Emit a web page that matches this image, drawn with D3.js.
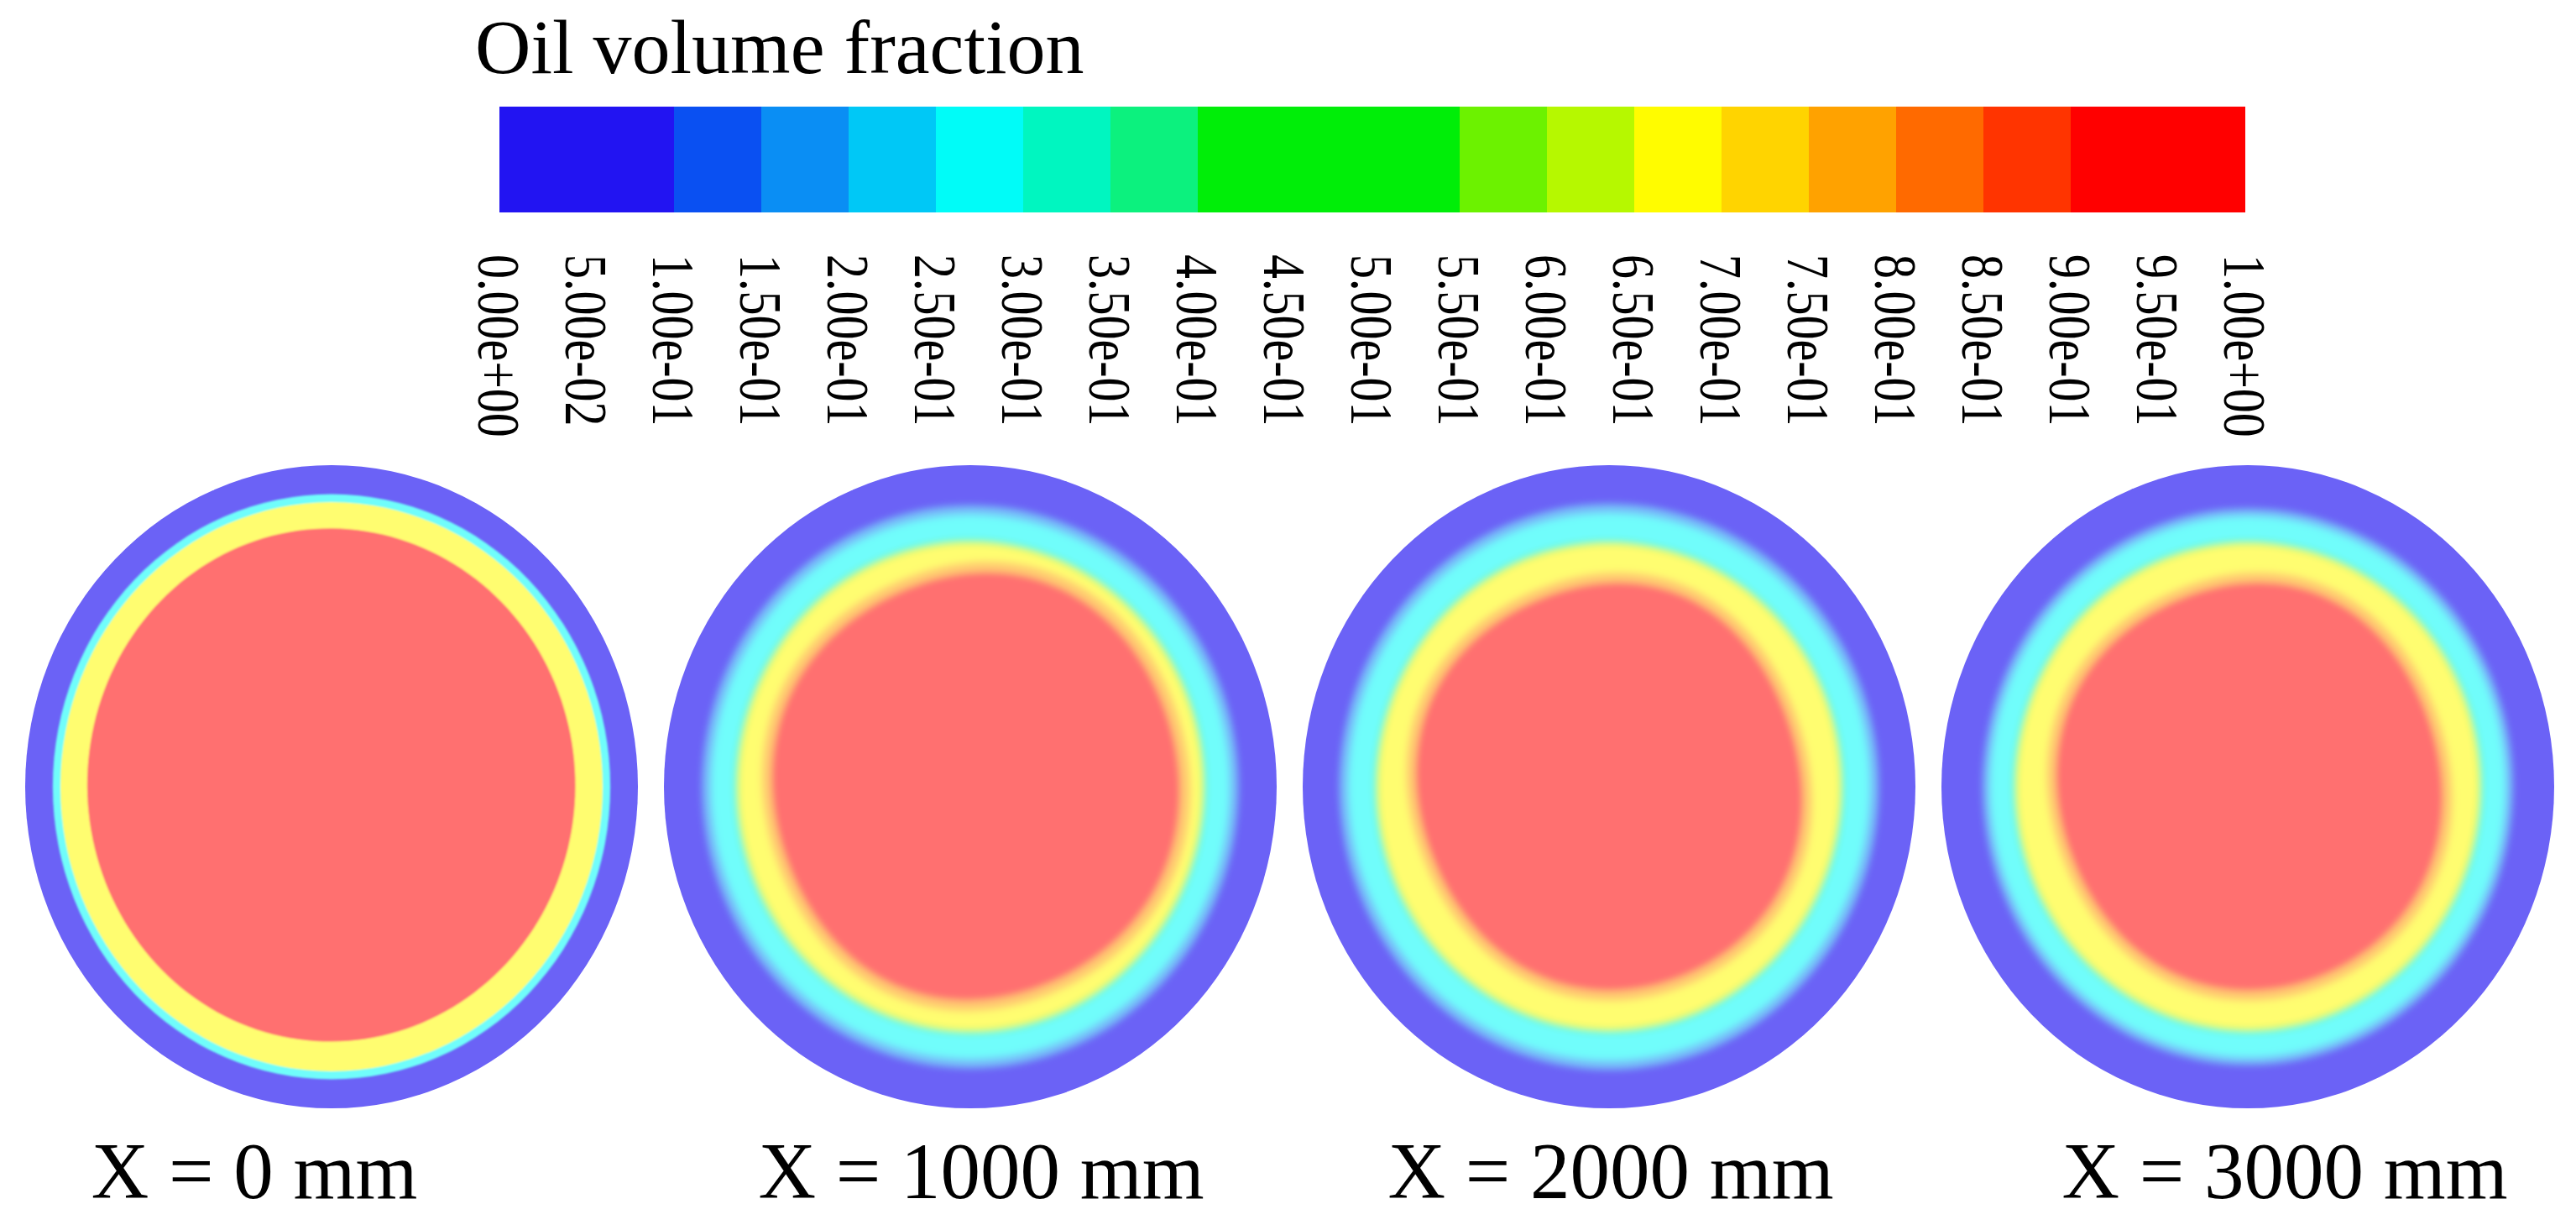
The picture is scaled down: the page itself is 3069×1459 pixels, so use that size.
<!DOCTYPE html>
<html>
<head>
<meta charset="utf-8">
<script src="https://cdn.jsdelivr.net/npm/d3@7"></script>
<style>
  body { margin: 0; background: #fff; }
  text { font-family: "Liberation Serif", "Times New Roman", serif; fill: #000; }
</style>
</head>
<body>
<div class="canvas"></div>
<script>
// colour bar levels (oil volume fraction) and their printed labels
const tickValues = [0, 0.05, 0.1, 0.15, 0.2, 0.25, 0.3, 0.35, 0.4, 0.45, 0.5,
  0.55, 0.6, 0.65, 0.7, 0.75, 0.8, 0.85, 0.9, 0.95, 1];
const tickLabels = ['0.00e+00', '5.00e-02', '1.00e-01', '1.50e-01', '2.00e-01',
  '2.50e-01', '3.00e-01', '3.50e-01', '4.00e-01', '4.50e-01', '5.00e-01',
  '5.50e-01', '6.00e-01', '6.50e-01', '7.00e-01', '7.50e-01', '8.00e-01',
  '8.50e-01', '9.00e-01', '9.50e-01', '1.00e+00'];
// one colour per interval between two levels
const bandColors = ['#2214f2', '#2214f2', '#0a50f2', '#0a8ef4', '#00c8f6',
  '#00fcf8', '#00f6c0', '#0cf17e', '#00ee08', '#00ee08', '#00ee08',
  '#6cf200', '#b6f800', '#fffc00', '#ffd400', '#ffa200', '#ff6a00',
  '#ff3400', '#ff0000', '#ff0000'];

// cross sections along the pipe
const sectionLabels = ['X = 0 mm', 'X = 1000 mm', 'X = 2000 mm', 'X = 3000 mm'];
// rings from the wall inwards: outer radius (share of pipe radius) and oil fraction
const ringRadius = [
  [1.00, 0.91, 0.885],
  [1.00, 0.875, 0.845, 0.768, 0.758],
  [1.00, 0.88, 0.85, 0.765, 0.755],
  [1.00, 0.865, 0.84, 0.765, 0.755]
];
const ringValue = [
  [0.02, 0.27, 0.67],
  [0.02, 0.17, 0.27, 0.45, 0.67],
  [0.02, 0.17, 0.27, 0.45, 0.67],
  [0.02, 0.17, 0.27, 0.45, 0.67]
];
// oil core outline: radius at 8 angles, clockwise from the top
const coreRadius = [
  [0.807, 0.80, 0.797, 0.795, 0.79, 0.795, 0.795, 0.80],
  [0.63, 0.70, 0.67, 0.70, 0.65, 0.68, 0.625, 0.67],
  [0.61, 0.66, 0.60, 0.66, 0.63, 0.64, 0.60, 0.66],
  [0.61, 0.66, 0.61, 0.66, 0.63, 0.64, 0.60, 0.65]
];
const haloValue = [0.67, 0.77, 0.77, 0.77];
const coreValue = [0.97, 0.97, 0.97, 0.97];

const width = 3069;
const height = 1459;

const svg = d3.select('.canvas')
  .append('svg')
  .attr('width', width)
  .attr('height', height);

svg.append('rect')
  .attr('width', width)
  .attr('height', height)
  .attr('fill', '#fff');

// scales
const x = d3.scaleLinear()
  .domain([0, 1])
  .range([595, 2675]);
const color = d3.scaleQuantize()
  .domain([0, 1])
  .range(bandColors);
// contour colours look washed out on the sections (the wall blue a bit less)
const wash = v => d3.interpolateRgb(color(v), '#fff')(v < 0.1 ? 0.33 : 0.44);

// title
svg.append('text')
  .attr('x', 566)
  .attr('y', 87)
  .attr('font-size', 92)
  .text('Oil volume fraction');

// colour bar
const barTop = 127;
const barHeight = 126;

svg.append('g')
  .selectAll('rect')
  .data(bandColors)
  .enter()
  .append('rect')
    .attr('x', (d, i) => x(tickValues[i]))
    .attr('y', barTop)
    .attr('width', (d, i) => x(tickValues[i + 1]) - x(tickValues[i]) + (i < bandColors.length - 1 ? 1 : 0))
    .attr('height', barHeight)
    .attr('fill', d => d);

const axis = d3.axisBottom(x)
  .tickValues(tickValues)
  .tickFormat((d, i) => tickLabels[i])
  .tickSize(0);

const axisGroup = svg.append('g')
  .attr('transform', `translate(0, ${barTop + barHeight})`)
  .call(axis)
  .attr('font-size', 72)
  .attr('font-family', null);

axisGroup.select('.domain').remove();
axisGroup.selectAll('text')
  .attr('x', 0)
  .attr('y', 0)
  .attr('dy', '0.35em')
  .attr('fill', '#000')
  .attr('text-anchor', 'start')
  .attr('transform', 'translate(0, 50) rotate(90) scale(0.805, 1)');

// cross sections
const cx = d3.scalePoint()
  .domain(sectionLabels)
  .range([395, 2678]);
const cy = 937;
const rx = 365;
const ry = 383;
const labelShift = [-92, 13, 2, 44];

const defs = svg.append('defs');
defs.append('filter')
  .attr('id', 'soft')
  .attr('x', '-10%').attr('y', '-10%')
  .attr('width', '120%').attr('height', '120%')
  .append('feGaussianBlur')
  .attr('stdDeviation', 4);
defs.append('filter')
  .attr('id', 'crisp')
  .append('feGaussianBlur')
  .attr('stdDeviation', 1.2);
defs.append('clipPath')
  .attr('id', 'pipe')
  .append('ellipse')
  .attr('rx', rx)
  .attr('ry', ry);

// closed outline: radius varies smoothly with angle through the 8 samples
const outline = radii => {
  const r = d3.interpolateBasisClosed(radii);
  const angles = d3.range(0, 2 * Math.PI, Math.PI / 90);
  return d3.line()
    .x(a => r(a / (2 * Math.PI) + 0.5 / radii.length) * rx * Math.sin(a))
    .y(a => -r(a / (2 * Math.PI) + 0.5 / radii.length) * ry * Math.cos(a))
    .curve(d3.curveLinearClosed)(angles);
};

sectionLabels.forEach((name, s) => {
  const g = svg.append('g')
    .attr('transform', `translate(${cx(name)}, ${cy})`);

  // wall layer, kept sharp
  g.append('ellipse')
    .attr('rx', rx * ringRadius[s][0])
    .attr('ry', ry * ringRadius[s][0])
    .attr('fill', wash(ringValue[s][0]));

  const inner = g.append('g')
    .attr('clip-path', 'url(#pipe)')
    .append('g')
    .attr('filter', s === 0 ? 'url(#crisp)' : 'url(#soft)');

  inner.selectAll('ellipse')
    .data(ringRadius[s].slice(1))
    .enter()
    .append('ellipse')
      .attr('rx', d => rx * d)
      .attr('ry', d => ry * d)
      .attr('fill', (d, i) => wash(ringValue[s][i + 1]));

  inner.append('path')
    .attr('d', outline(coreRadius[s].map(r => r * 1.05)))
    .attr('fill', wash(haloValue[s]));

  inner.append('path')
    .attr('d', outline(coreRadius[s]))
    .attr('fill', wash(coreValue[s]));

  svg.append('text')
    .attr('x', cx(name) + labelShift[s])
    .attr('y', 1427)
    .attr('text-anchor', 'middle')
    .attr('font-size', 95)
    .text(name);
});
</script>
</body>
</html>
